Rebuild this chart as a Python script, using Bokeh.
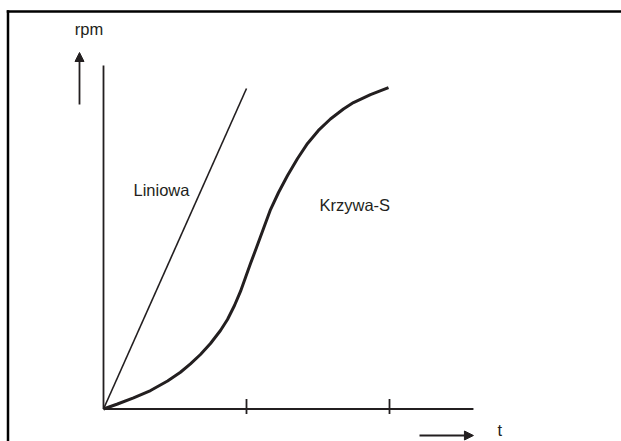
from bokeh.plotting import figure
from bokeh.models import Range1d, Arrow, NormalHead
from bokeh.core.properties import value
from bokeh.embed import file_html
from bokeh.resources import INLINE

# ---- data (time in tick units, rpm in arbitrary units) ----
t_ticks = [1, 2]
t_axis_end = 2.587
rpm_axis_end = 2.402

linear_t = [0.0, 1.0]
linear_rpm = [0.0, 2.241]

scurve_t = [0.000, 0.098, 0.210, 0.329, 0.448, 0.538, 0.608, 0.678, 0.748,
            0.818, 0.867, 0.916, 0.958, 0.993, 1.028, 1.070, 1.119, 1.168,
            1.224, 1.287, 1.357, 1.427, 1.503, 1.587, 1.678, 1.748, 1.867, 1.993]
scurve_rpm = [0.000, 0.035, 0.078, 0.129, 0.196, 0.257, 0.316, 0.381, 0.458,
              0.549, 0.626, 0.724, 0.822, 0.920, 1.017, 1.129, 1.262, 1.395,
              1.514, 1.633, 1.752, 1.857, 1.948, 2.028, 2.098, 2.143, 2.199, 2.248]

label_linear = "Liniowa"
label_scurve = "Krzywa-S"
label_y = "rpm"
label_x = "t"

# ---- layout ----
W, H = 621, 441
PX = 143.0          # pixels per unit
OX = 103.0          # origin x in figure pixels
OYB = 32.5          # origin y from figure bottom
OYT = H - OYB       # origin y from figure top

INK = "#231f20"
FONT = value("Liberation Sans")


def dy(py):
    """figure-pixel row (from top) -> data y"""
    return (OYT - py) / PX


def dx(px):
    """figure-pixel column -> data x"""
    return (px - OX) / PX


p = figure(width=W, height=H, output_backend="svg", toolbar_location=None,
           x_axis_location=None, y_axis_location=None, min_border=0,
           x_range=Range1d(-OX / PX, (W - OX) / PX),
           y_range=Range1d(-OYB / PX, (H - OYB) / PX))
p.outline_line_color = None
p.grid.visible = False
p.background_fill_color = "white"
p.border_fill_color = "white"

# frame border (top and left)
p.line([dx(6.25), dx(W + 2)], [dy(11), dy(11)], line_color="black", line_width=2.5)
p.line([dx(7.5), dx(7.5)], [dy(9.75), dy(H + 2)], line_color="black", line_width=2.5)

# axes
p.line([0, t_axis_end], [0, 0], line_color=INK, line_width=1.8)
p.line([0, 0], [0, rpm_axis_end], line_color=INK, line_width=1.8)
p.segment(x0=t_ticks, y0=[-5 / PX] * len(t_ticks), x1=t_ticks, y1=[10 / PX] * len(t_ticks),
          line_color=INK, line_width=1.8)

# curves
p.line(linear_t, linear_rpm, line_color=INK, line_width=1.6)
p.line(scurve_t, scurve_rpm, line_color=INK, line_width=3, line_join="round")

# direction arrows
p.add_layout(Arrow(end=NormalHead(size=9, fill_color=INK, line_color=INK),
                   x_start=dx(79), y_start=dy(104), x_end=dx(79), y_end=dy(52),
                   line_color=INK, line_width=1.8))
p.add_layout(Arrow(end=NormalHead(size=9, fill_color=INK, line_color=INK),
                   x_start=dx(419), y_start=dy(435), x_end=t_axis_end, y_end=dy(435),
                   line_color=INK, line_width=1.8))

# labels
p.text(x=[dx(133)], y=[dy(189)], text=[label_linear],
       text_font=FONT, text_font_size="16.5px", text_color=INK,
       text_baseline="alphabetic", text_align="left")
p.text(x=[dx(319)], y=[dy(204)], text=[label_scurve],
       text_font=FONT, text_font_size="16.5px", text_color=INK,
       text_baseline="alphabetic", text_align="left")
p.text(x=[dx(88.5)], y=[dy(28)], text=[label_y],
       text_font=FONT, text_font_size="16.5px", text_color=INK,
       text_baseline="alphabetic", text_align="center")
p.text(x=[dx(497)], y=[dy(429)], text=[label_x],
       text_font=FONT, text_font_size="16.5px", text_color=INK,
       text_baseline="alphabetic", text_align="left")

open("out.html", "w").write(file_html(p, INLINE))
